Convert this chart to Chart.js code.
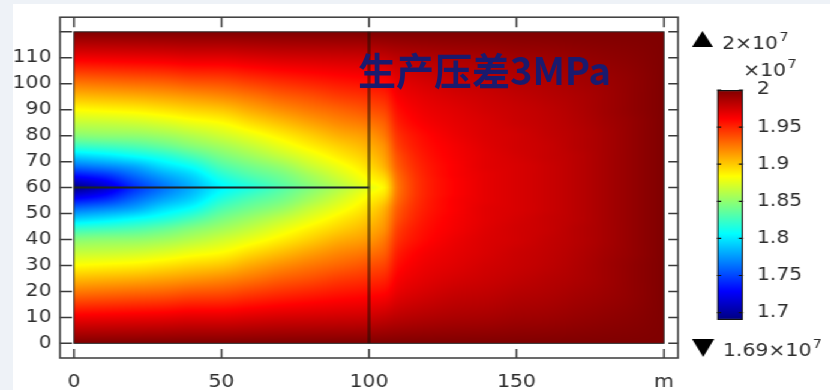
<!DOCTYPE html>
<html>
<head>
<meta charset="utf-8">
<script src="https://cdn.jsdelivr.net/npm/chart.js@4.4.1/dist/chart.umd.min.js"></script>
<style>
  html, body { margin: 0; padding: 0; background: #eef2f7; overflow: hidden; }
  #page { position: relative; width: 830px; height: 390px; }
  #panel { position: absolute; left: 13px; top: 4px; width: 817px; height: 386px; background: #ffffff; }
  #stretch { position: absolute; left: 0; top: 0; width: 692px; height: 390px;
             transform: scaleX(1.2); transform-origin: 0 0; }
  #main { position: absolute; left: 0; top: 0; }
  #bar { position: absolute; left: 570px; top: 0; }
  #title { position: absolute; left: 358px; top: 50px; font-family: "Noto Sans CJK SC", sans-serif;
           font-weight: 700; font-size: 38px; line-height: 1; color: #1a1a6e; white-space: nowrap; }
</style>
</head>
<body>
<div id="page">
  <div id="panel"></div>
  <div id="stretch">
    <canvas id="main" width="692" height="390"></canvas>
    <canvas id="bar" width="122" height="390"></canvas>
  </div>
  <div id="title">生产压差3MPa</div>
</div>
<script>
// Pressure field, units of 1e7 Pa
const VMIN = 1.69;
const VMAX = 2.0;
const FRACTURE_Y = 60;

// sample columns (m along x) and distances from the fracture line (m)
const xNodes = [0, 10, 20, 30, 40, 50, 60, 70, 80, 90, 100, 105, 110, 120, 130, 140, 150, 160, 170, 180, 190, 200];
const dyNodes = [0, 2, 5, 8, 12, 16, 20, 25, 30, 35, 40, 50, 60];

// one row per entry of dyNodes, one value per entry of xNodes
const pressure = [
  [1.690,1.710,1.740,1.762,1.782,1.803,1.815,1.830,1.845,1.860,1.876,1.886,1.926,1.952,1.962,1.969,1.973,1.977,1.982,1.988,1.994,2.000],
  [1.708,1.723,1.748,1.768,1.786,1.808,1.822,1.835,1.850,1.865,1.882,1.890,1.927,1.952,1.962,1.969,1.973,1.977,1.982,1.988,1.994,2.000],
  [1.735,1.744,1.762,1.780,1.795,1.818,1.832,1.842,1.857,1.872,1.888,1.898,1.930,1.953,1.963,1.969,1.973,1.977,1.982,1.988,1.994,2.000],
  [1.761,1.768,1.778,1.795,1.808,1.829,1.841,1.851,1.866,1.879,1.894,1.906,1.934,1.954,1.963,1.970,1.973,1.977,1.982,1.988,1.994,2.000],
  [1.792,1.798,1.806,1.815,1.828,1.843,1.854,1.865,1.877,1.889,1.901,1.912,1.938,1.956,1.964,1.970,1.974,1.978,1.982,1.988,1.994,2.000],
  [1.823,1.826,1.830,1.837,1.847,1.856,1.866,1.877,1.888,1.898,1.908,1.917,1.943,1.958,1.965,1.971,1.975,1.978,1.983,1.988,1.994,2.000],
  [1.847,1.849,1.850,1.854,1.861,1.869,1.878,1.888,1.898,1.908,1.915,1.924,1.947,1.960,1.967,1.972,1.975,1.979,1.983,1.988,1.994,2.000],
  [1.866,1.867,1.869,1.873,1.879,1.884,1.894,1.903,1.912,1.920,1.926,1.932,1.953,1.964,1.969,1.973,1.977,1.980,1.984,1.989,1.994,2.000],
  [1.884,1.886,1.888,1.892,1.897,1.901,1.910,1.918,1.925,1.931,1.937,1.941,1.958,1.967,1.971,1.975,1.978,1.981,1.985,1.990,1.995,2.000],
  [1.904,1.906,1.908,1.911,1.915,1.919,1.925,1.932,1.937,1.943,1.947,1.950,1.963,1.970,1.974,1.977,1.980,1.983,1.986,1.990,1.995,2.000],
  [1.924,1.926,1.928,1.930,1.934,1.936,1.941,1.946,1.950,1.954,1.957,1.959,1.968,1.974,1.978,1.980,1.983,1.985,1.988,1.991,1.995,2.000],
  [1.965,1.966,1.967,1.968,1.970,1.970,1.972,1.974,1.975,1.976,1.977,1.979,1.982,1.985,1.987,1.988,1.990,1.991,1.993,1.995,1.997,2.000],
  [2.000,2.000,2.000,2.000,2.000,2.000,2.000,2.000,2.000,2.000,2.000,2.000,2.000,2.000,2.000,2.000,2.000,2.000,2.000,2.000,2.000,2.000]
];

const xTickValues = [0, 50, 100, 150, 200];
const yTickValues = [0, 10, 20, 30, 40, 50, 60, 70, 80, 90, 100, 110, 120];
const barTickValues = [2.0, 1.95, 1.9, 1.85, 1.8, 1.75, 1.7];

// fracture from the well and the boundary of the stimulated zone
const fractureLine = [{ x: 0, y: 60 }, { x: 100, y: 60 }];
const zoneBoundary = [{ x: 100, y: 0 }, { x: 100, y: 120 }];

const DOMAIN = { xMin: 0, xMax: 200, yMin: 0, yMax: 120 };

// jet colour map, t in [0, 1]
function jet(t) {
  t = Math.min(1, Math.max(0, t));
  const c = v => Math.round(255 * Math.min(1, Math.max(0, v)));
  return [c(1.5 - Math.abs(4 * t - 3)), c(1.5 - Math.abs(4 * t - 2)), c(1.5 - Math.abs(4 * t - 1))];
}

// monotone cubic Hermite evaluation between samples (no overshoot)
function smoothSample(nodes, vals, v) {
  const n = nodes.length;
  if (v <= nodes[0]) return vals[0];
  if (v >= nodes[n - 1]) return vals[n - 1];
  let i = 0;
  while (v > nodes[i + 1]) i++;
  const slope = k => (vals[k + 1] - vals[k]) / (nodes[k + 1] - nodes[k]);
  const tangent = k => {
    if (k === 0) return slope(0);
    if (k === n - 1) return slope(n - 2);
    const d0 = slope(k - 1), d1 = slope(k);
    if (d0 * d1 <= 0) return 0;
    const h0 = nodes[k] - nodes[k - 1], h1 = nodes[k + 1] - nodes[k];
    return 3 * (h0 + h1) / ((2 * h1 + h0) / d0 + (h1 + 2 * h0) / d1);
  };
  const h = nodes[i + 1] - nodes[i];
  const t = (v - nodes[i]) / h, t2 = t * t, t3 = t2 * t;
  return (2 * t3 - 3 * t2 + 1) * vals[i] + (t3 - 2 * t2 + t) * h * tangent(i)
       + (-2 * t3 + 3 * t2) * vals[i + 1] + (t3 - t2) * h * tangent(i + 1);
}

const fieldPlugin = {
  id: 'pressureField',
  beforeDatasetsDraw(chart) {
    const { ctx, scales: { x, y } } = chart;
    const x0 = x.getPixelForValue(DOMAIN.xMin), x1 = x.getPixelForValue(DOMAIN.xMax);
    const y0 = y.getPixelForValue(DOMAIN.yMax), y1 = y.getPixelForValue(DOMAIN.yMin);
    const left = Math.floor(x0), top = Math.floor(y0);
    const w = Math.ceil(x1) - left, h = Math.ceil(y1) - top;
    // each pixel column: profile across the fracture distance samples
    const columns = [];
    for (let c = 0; c < w; c++) {
      const xv = x.getValueForPixel(left + c + 0.5);
      columns.push(pressure.map(row => smoothSample(xNodes, row, xv)));
    }
    const off = document.createElement('canvas');
    off.width = w; off.height = h;
    const octx = off.getContext('2d');
    const img = octx.createImageData(w, h);
    for (let r = 0; r < h; r++) {
      const dy = Math.abs(y.getValueForPixel(top + r + 0.5) - FRACTURE_Y);
      for (let c = 0; c < w; c++) {
        const p = smoothSample(dyNodes, columns[c], dy);
        const [R, G, B] = jet((p - VMIN) / (VMAX - VMIN));
        const k = (r * w + c) * 4;
        img.data[k] = R; img.data[k + 1] = G; img.data[k + 2] = B; img.data[k + 3] = 255;
      }
    }
    octx.putImageData(img, 0, 0);
    ctx.save();
    ctx.beginPath();
    ctx.rect(x0, y0, x1 - x0, y1 - y0);
    ctx.clip();
    ctx.drawImage(off, left, top);
    ctx.restore();
  }
};

const framePlugin = {
  id: 'frame',
  afterDatasetsDraw(chart) {
    const { ctx, chartArea: a, scales: { x, y } } = chart;
    ctx.save();
    // outline of the model domain
    const x0 = x.getPixelForValue(DOMAIN.xMin), x1 = x.getPixelForValue(DOMAIN.xMax);
    const y0 = y.getPixelForValue(DOMAIN.yMax), y1 = y.getPixelForValue(DOMAIN.yMin);
    ctx.strokeStyle = '#2a2a2a';
    ctx.lineWidth = 1;
    ctx.strokeRect(x0, y0, x1 - x0, y1 - y0);
    // axis box with inward ticks
    ctx.strokeStyle = '#3a3a3a';
    ctx.lineWidth = 1.5;
    ctx.strokeRect(a.left, a.top, a.right - a.left, a.bottom - a.top);
    ctx.beginPath();
    x.ticks.forEach(t => {
      const p = x.getPixelForValue(t.value);
      ctx.moveTo(p, a.top); ctx.lineTo(p, a.top + 10);
      ctx.moveTo(p, a.bottom); ctx.lineTo(p, a.bottom - 9);
    });
    y.ticks.forEach(t => {
      const p = y.getPixelForValue(t.value);
      ctx.moveTo(a.left, p); ctx.lineTo(a.left + 10, p);
      ctx.moveTo(a.right, p); ctx.lineTo(a.right - 8, p);
    });
    ctx.stroke();
    ctx.restore();
  }
};

const tickFont = { family: 'DejaVu Sans', size: 17 };
const textColor = '#2e2e2e';

new Chart(document.getElementById('main'), {
  type: 'scatter',
  data: {
    datasets: [
      { data: fractureLine, showLine: true, borderColor: '#1c2424', borderWidth: 2, pointRadius: 0 },
      { data: zoneBoundary, showLine: true, borderColor: 'rgba(30,15,5,0.55)', borderWidth: 2.5, pointRadius: 0 }
    ]
  },
  options: {
    responsive: false,
    animation: false,
    devicePixelRatio: 1,
    layout: { padding: { left: 0, top: 9, right: 127, bottom: 0 } },
    plugins: { legend: { display: false }, tooltip: { enabled: false } },
    scales: {
      x: {
        type: 'linear', min: -4.75, max: 204.75,
        grid: { display: false, drawTicks: false }, border: { display: false },
        afterBuildTicks: s => { s.ticks = xTickValues.map(v => ({ value: v })); },
        afterFit: s => { s.height = 32; },
        ticks: { font: tickFont, color: textColor, padding: 14, maxRotation: 0, autoSkip: false,
                 callback: v => (v === 200 ? 'm' : String(v)) }
      },
      y: {
        type: 'linear', min: -5.64, max: 125.64,
        grid: { display: false, drawTicks: false }, border: { display: false },
        afterBuildTicks: s => { s.ticks = yTickValues.map(v => ({ value: v })); },
        afterFit: s => { s.width = 50; },
        ticks: { font: tickFont, color: textColor, padding: 7, autoSkip: false,
                 callback: v => (v === 120 ? '' : String(v)) }
      }
    }
  },
  plugins: [fieldPlugin, framePlugin]
});

// colour legend
function barGradient(chart) {
  const a = chart.chartArea;
  if (!a) return null;
  const yS = chart.scales.y;
  const g = chart.ctx.createLinearGradient(0, yS.getPixelForValue(VMIN), 0, yS.getPixelForValue(VMAX));
  [0, 0.125, 0.375, 0.625, 0.875, 1].forEach(t => {
    const [r, gg, b] = jet(t);
    g.addColorStop(t, `rgb(${r},${gg},${b})`);
  });
  return g;
}

function drawPower(ctx, base, exp, x, y) {
  ctx.font = '17px "DejaVu Sans"';
  ctx.fillText(base, x, y);
  const w = ctx.measureText(base).width;
  ctx.font = '12px "DejaVu Sans"';
  ctx.fillText(exp, x + w + 1, y - 8);
}

const barDecor = {
  id: 'barDecor',
  afterDraw(chart) {
    const { ctx, chartArea: a, scales: { y } } = chart;
    ctx.save();
    ctx.strokeStyle = '#111';
    ctx.lineWidth = 1.2;
    ctx.beginPath();
    y.ticks.forEach(t => {
      const p = y.getPixelForValue(t.value);
      ctx.moveTo(a.left, p); ctx.lineTo(a.left + 3.5, p);
      ctx.moveTo(a.right, p); ctx.lineTo(a.right - 3.5, p);
    });
    ctx.stroke();

    ctx.fillStyle = '#000';
    ctx.beginPath();
    ctx.moveTo(6.7, 47); ctx.lineTo(24.2, 47); ctx.lineTo(15.4, 31); ctx.closePath();
    ctx.moveTo(6.7, 339); ctx.lineTo(25.2, 339); ctx.lineTo(16, 357); ctx.closePath();
    ctx.fill();

    ctx.fillStyle = textColor;
    ctx.textAlign = 'left';
    ctx.textBaseline = 'alphabetic';
    drawPower(ctx, '2×10', '7', 31.7, 49);
    drawPower(ctx, '×10', '7', 49.3, 76);
    drawPower(ctx, '1.69×10', '7', 32.5, 356);
    ctx.restore();
  }
};

new Chart(document.getElementById('bar'), {
  type: 'bar',
  data: {
    labels: ['p'],
    datasets: [{
      data: [[VMIN, VMAX]],
      backgroundColor: c => barGradient(c.chart),
      borderColor: '#111', borderWidth: 1.5, borderSkipped: false,
      barPercentage: 1, categoryPercentage: 1
    }]
  },
  options: {
    responsive: false,
    animation: false,
    devicePixelRatio: 1,
    layout: { padding: { left: 27.5, top: 90, bottom: 70, right: 0 } },
    plugins: { legend: { display: false }, tooltip: { enabled: false } },
    scales: {
      x: { display: false },
      y: {
        position: 'right', min: VMIN, max: VMAX,
        grid: { display: false, drawTicks: false }, border: { display: false },
        afterBuildTicks: s => { s.ticks = barTickValues.map(v => ({ value: v })); },
        afterFit: s => { s.width = 72.8; },
        ticks: { font: tickFont, color: textColor, padding: 11.6, autoSkip: false,
                 callback: v => String(parseFloat(Number(v).toFixed(2))) }
      }
    }
  },
  plugins: [barDecor]
});
</script>
</body>
</html>
